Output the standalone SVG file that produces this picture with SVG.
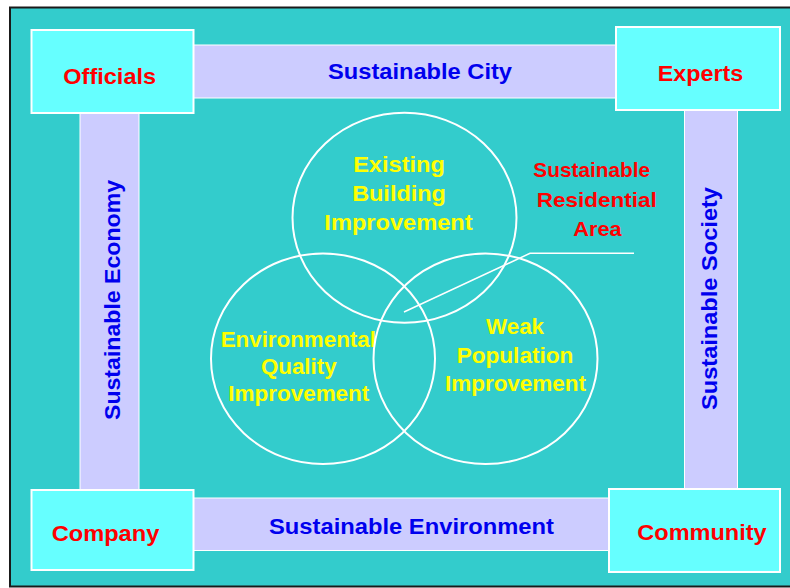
<svg xmlns="http://www.w3.org/2000/svg" width="790" height="588" viewBox="0 0 790 588">
  <style>
    text { font-family: "Liberation Sans", Arial, sans-serif; font-weight: bold; }
    .box { fill: #66FFFF; stroke: #FFFFFF; stroke-width: 2; }
    .bar { fill: #CCCCFF; stroke: #FFFFFF; stroke-width: 1; }
    .actor { fill: #FF0000; font-size: 22px; text-anchor: middle; }
    .band { fill: #0000EE; font-size: 22px; text-anchor: middle; }
    .ring { fill: none; stroke: #FFFFFF; stroke-width: 2; }
    .goal { fill: #FFFF00; font-size: 22px; text-anchor: middle; }
    .area { fill: #FF0000; font-size: 21px; text-anchor: middle; }
  </style>

  <!-- page background and frame -->
  <rect x="0" y="0" width="790" height="588" fill="#FFFFFF"/>
  <rect x="10" y="7.5" width="790" height="579" fill="#33CCCC" stroke="#1A1A1A" stroke-width="2"/>

  <!-- bands linking the four stakeholders -->
  <g id="connectors">
    <g id="band-city">
      <rect class="bar" x="193" y="45" width="424" height="53"/>
      <text class="band" x="420" y="78.5" textLength="184" lengthAdjust="spacingAndGlyphs">Sustainable City</text>
    </g>
    <g id="band-economy">
      <rect class="bar" x="80" y="113" width="59" height="377"/>
      <text class="band" transform="translate(119.5,300) rotate(-90)" textLength="240" lengthAdjust="spacingAndGlyphs">Sustainable Economy</text>
    </g>
    <g id="band-society">
      <rect class="bar" x="684.5" y="110" width="53" height="379"/>
      <text class="band" transform="translate(716.5,298.5) rotate(-90)" textLength="223" lengthAdjust="spacingAndGlyphs">Sustainable Society</text>
    </g>
    <g id="band-environment">
      <rect class="bar" x="193" y="498" width="417" height="52.5"/>
      <text class="band" x="411.5" y="533.5" textLength="285" lengthAdjust="spacingAndGlyphs">Sustainable Environment</text>
    </g>
  </g>

  <!-- stakeholders -->
  <g id="officials">
    <rect class="box" x="31.5" y="30" width="162" height="83"/>
    <text class="actor" x="109.7" y="83.5" textLength="92.7" lengthAdjust="spacingAndGlyphs">Officials</text>
  </g>
  <g id="experts">
    <rect class="box" x="616" y="27" width="164" height="83"/>
    <text class="actor" x="700.5" y="81" textLength="85.7" lengthAdjust="spacingAndGlyphs">Experts</text>
  </g>
  <g id="company">
    <rect class="box" x="31.5" y="490" width="162" height="80"/>
    <text class="actor" x="105.5" y="541" textLength="107.7" lengthAdjust="spacingAndGlyphs">Company</text>
  </g>
  <g id="community">
    <rect class="box" x="609" y="489" width="171" height="83"/>
    <text class="actor" x="702" y="540" textLength="129.4" lengthAdjust="spacingAndGlyphs">Community</text>
  </g>

  <!-- improvement areas -->
  <g id="existing-building">
    <ellipse class="ring" cx="404.5" cy="217.7" rx="112" ry="105"/>
    <text class="goal" x="399" y="172" textLength="91.7" lengthAdjust="spacingAndGlyphs">Existing</text>
    <text class="goal" x="399" y="200.5" textLength="93.7" lengthAdjust="spacingAndGlyphs">Building</text>
    <text class="goal" x="398.5" y="229.5" textLength="148.3" lengthAdjust="spacingAndGlyphs">Improvement</text>
  </g>
  <g id="environmental-quality">
    <ellipse class="ring" cx="323" cy="358.7" rx="112" ry="105.3"/>
    <text class="goal" x="298.3" y="347" textLength="155.3" lengthAdjust="spacingAndGlyphs">Environmental</text>
    <text class="goal" x="298.8" y="374" textLength="75.7" lengthAdjust="spacingAndGlyphs">Quality</text>
    <text class="goal" x="298.8" y="401" textLength="141" lengthAdjust="spacingAndGlyphs">Improvement</text>
  </g>
  <g id="weak-population">
    <ellipse class="ring" cx="485.5" cy="358.7" rx="112" ry="105.3"/>
    <text class="goal" x="515" y="333.5" textLength="58" lengthAdjust="spacingAndGlyphs">Weak</text>
    <text class="goal" x="515" y="362.5" textLength="116.7" lengthAdjust="spacingAndGlyphs">Population</text>
    <text class="goal" x="515.5" y="391" textLength="141" lengthAdjust="spacingAndGlyphs">Improvement</text>
  </g>

  <!-- callout for the shared overlap -->
  <g id="residential-area">
    <polyline points="404,312 530,253.3 634,253.3" fill="none" stroke="#FFFFFF" stroke-width="1.5"/>
    <text class="area" x="591.7" y="177" textLength="116.7" lengthAdjust="spacingAndGlyphs">Sustainable</text>
    <text class="area" x="596.7" y="207" textLength="120" lengthAdjust="spacingAndGlyphs">Residential</text>
    <text class="area" x="597.5" y="235.5" textLength="48.4" lengthAdjust="spacingAndGlyphs">Area</text>
  </g>
</svg>
